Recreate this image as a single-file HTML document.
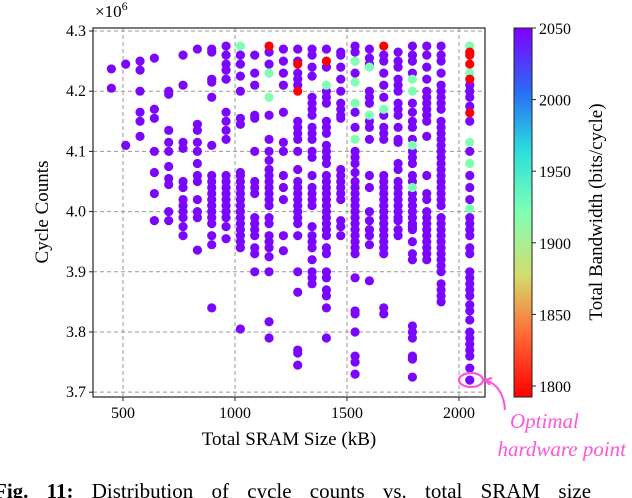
<!DOCTYPE html>
<html><head><meta charset="utf-8"><style>
body{margin:0;background:#fff;width:632px;height:498px;overflow:hidden}
svg{display:block;font-family:"Liberation Serif",serif}
</style></head><body>
<svg id="chart" width="632" height="498" viewBox="0 0 632 498">
<g id="grid"></g>
<g id="points"></g>
<rect x="93" y="28" width="392" height="369" fill="none" stroke="#222" stroke-width="1.2"/>
<g id="xticks"></g>
<g id="yticks"></g>
<text x="95" y="17" font-size="17">×10<tspan dy="-7" font-size="12">6</tspan></text>
<text transform="translate(48,212) rotate(-90)" text-anchor="middle" font-size="19">Cycle Counts</text>
<text x="289" y="445" text-anchor="middle" font-size="19">Total SRAM Size (kB)</text>
<defs><linearGradient id="cb" x1="0" y1="1" x2="0" y2="0">
<stop offset="0" stop-color="#ff0000"/><stop offset="0.17" stop-color="#ff6a36"/><stop offset="0.33" stop-color="#d4dd6e"/><stop offset="0.5" stop-color="#80ffb4"/><stop offset="0.67" stop-color="#2adddd"/><stop offset="0.83" stop-color="#2a6af5"/><stop offset="1" stop-color="#8000ff"/></linearGradient></defs>
<rect x="514" y="28" width="18" height="369" fill="url(#cb)" stroke="#222" stroke-width="1"/>
<g id="cbticks"></g>
<text transform="translate(602,212) rotate(-90)" text-anchor="middle" font-size="19">Total Bandwidth (bits/cycle)</text>
<ellipse cx="471" cy="380" rx="12" ry="7" fill="none" stroke="#ff55dd" stroke-width="2.2"/>
<path d="M505 410 C504 395 498 384 485 380 M485 380 l7 -2 M485 380 l5 5" fill="none" stroke="#ff55dd" stroke-width="2"/>
<text x="510" y="428" font-size="21" font-style="italic" fill="#ff55dd">Optimal</text>
<text x="626" y="456" text-anchor="end" font-size="21" font-style="italic" fill="#ff55dd">hardware point</text>
<text x="-6" y="498" font-size="21" word-spacing="13"><tspan font-weight="bold">Fig. 11:</tspan> Distribution of cycle counts vs. total SRAM size</text>
</svg>
<script>
const sramColumns=[448,512,576,640,704,768,832,896,960,1024,1088,1152,1216,1280,1344,1408,1472,1536,1600,1664,1728,1792,1856,1920,2048];
const cyclesByColumn=[
[4.237,4.205],
[4.245,4.11],
[4.25,4.235,4.2,4.165,4.15,4.125],
[4.255,4.17,4.155,4.1,4.065,4.03,3.985],
[4.2,4.195,4.135,4.115,4.1,4.075,4.055,4.045,4.0,3.985],
[4.26,4.21,4.115,4.105,4.05,4.04,4.02,4.01,4.0,3.99,3.975,3.96],
[4.27,4.145,4.135,4.115,4.1,4.08,4.06,4.05,4.02,4.0,3.99,3.936],
[4.265,4.27,4.22,4.215,4.19,4.11,4.06,4.05,4.04,4.03,4.02,4.01,4.0,3.99,3.98,3.96,3.945,3.84],
[4.275,4.26,4.245,4.235,4.22,4.165,4.15,4.135,4.12,4.06,4.05,4.04,4.03,4.02,4.01,4.0,3.99,3.975,3.955],
[4.26,4.245,4.225,4.2,4.155,4.145,4.065,4.06,4.05,4.04,4.03,4.02,4.01,4.0,3.99,3.98,3.97,3.96,3.95,3.94,3.805],
[4.26,4.23,4.21,4.16,4.155,4.1,4.05,4.04,4.03,3.99,3.98,3.97,3.96,3.94,3.93,3.9],
[4.265,4.245,4.16,4.12,4.1,4.085,4.07,4.06,4.05,4.04,4.03,4.02,4.01,3.99,3.98,3.96,3.95,3.94,3.925,3.9,3.817,3.79],
[4.27,4.25,4.23,4.21,4.165,4.115,4.1,4.06,4.04,4.02,3.96,3.935],
[4.27,4.25,4.23,4.22,4.21,4.15,4.14,4.13,4.12,4.1,4.07,4.05,4.04,4.03,4.02,4.01,4.0,3.99,3.98,3.96,3.9,3.866,3.77,3.765,3.745],
[4.27,4.26,4.24,4.225,4.19,4.18,4.17,4.16,4.14,4.13,4.12,4.1,4.09,4.06,4.04,4.03,4.02,4.01,3.975,3.96,3.95,3.94,3.92,3.9,3.89,3.88],
[4.27,4.24,4.2,4.19,4.18,4.15,4.14,4.13,4.11,4.1,4.09,4.08,4.06,4.05,4.04,4.03,4.02,4.01,4.0,3.99,3.98,3.97,3.96,3.94,3.93,3.9,3.89,3.87,3.86,3.84,3.79],
[4.265,4.26,4.24,4.22,4.2,4.18,4.17,4.16,4.155,4.07,4.06,4.05,4.04,4.03,4.02,3.985,3.975,3.96],
[4.275,4.265,4.23,4.165,4.14,4.1,4.09,4.08,4.065,4.05,4.04,4.03,4.02,4.01,4.0,3.99,3.98,3.97,3.96,3.95,3.94,3.93,3.89,3.835,3.83,3.8,3.76,3.75,3.73],
[4.27,4.255,4.245,4.2,4.19,4.18,4.15,4.14,4.12,4.06,4.04,4.0,3.985,3.97,3.96,3.945,3.885],
[4.26,4.25,4.23,4.21,4.19,4.16,4.14,4.13,4.12,4.06,4.05,4.04,4.03,4.02,4.01,4.0,3.99,3.98,3.97,3.96,3.95,3.94,3.93,3.84,3.83],
[4.265,4.25,4.24,4.22,4.21,4.2,4.18,4.17,4.16,4.14,4.12,4.115,4.08,4.07,4.05,4.04,4.03,4.02,4.01,4.0,3.99,3.985,3.97,3.96],
[4.275,4.26,4.25,4.23,4.18,4.165,4.15,4.14,4.12,4.1,4.09,4.08,4.06,4.05,4.03,4.02,4.01,4.0,3.99,3.98,3.975,3.97,3.95,3.93,3.92,3.81,3.8,3.79,3.76,3.755,3.725],
[4.275,4.26,4.24,4.22,4.2,4.19,4.18,4.17,4.16,4.15,4.125,4.06,4.03,4.02,4.0,3.99,3.98,3.97,3.96,3.95,3.94,3.93,3.92],
[4.275,4.26,4.25,4.23,4.21,4.2,4.19,4.18,4.17,4.15,4.14,4.13,4.12,4.11,4.1,4.09,4.08,4.07,4.06,4.05,4.04,4.03,4.02,4.01,3.99,3.98,3.97,3.96,3.95,3.94,3.93,3.92,3.91,3.9,3.88,3.87,3.86,3.85],
[4.21,4.2,4.19,4.175,4.15,4.1,4.06,4.04,4.02,3.99,3.98,3.97,3.96,3.94,3.93,3.9,3.89,3.88,3.87,3.86,3.845,3.835,3.82,3.8,3.79,3.78,3.77,3.76,3.74,3.72]
];
const defaultBandwidth=2048;
const specialSram=[1024,1152,1152,1152,1280,1280,1408,1408,1536,1536,1536,1536,1600,1600,1664,1664,1792,1792,1792,1792,2048,2048,2048,2048,2048,2048,2048,2048,2048,2048];
const specialCycles=[4.275,4.275,4.23,4.19,4.245,4.2,4.25,4.21,4.25,4.215,4.18,4.12,4.24,4.16,4.275,4.17,4.22,4.2,4.11,4.04,4.275,4.265,4.26,4.245,4.23,4.22,4.164,4.115,4.08,4.005];
const specialBandwidth=[1925,1800,1925,1925,1800,1800,1800,1925,1925,1925,1925,1925,1925,1925,1800,1925,1925,1925,1925,1925,1925,1800,1800,1800,1925,1800,1800,1925,1925,1925];
const xTicks=[500,1000,1500,2000];
const yTicks=[3.7,3.8,3.9,4.0,4.1,4.2,4.3];
const cbTicks=[1800,1850,1900,1950,2000,2050];

const NS="http://www.w3.org/2000/svg";
const xMin=366,xMax=2116,yMin=3.692,yMax=4.305,L=93,R=485,T=28,B=397;
const xs=v=>L+(v-xMin)/(xMax-xMin)*(R-L);
const ys=v=>B-(v-yMin)/(yMax-yMin)*(B-T);
const cbs=v=>386-(v-1800)/250*(386-28);
function color(bw){const t=Math.max(0,Math.min(1,(2050-bw)/250));
 const r=Math.min(1,Math.abs(2*t-0.5)),g=Math.sin(Math.PI*t),b=Math.cos(Math.PI*t/2);
 return `rgb(${Math.round(r*255)},${Math.round(g*255)},${Math.round(b*255)})`;}
function mk(tag,attrs,parent){const e=document.createElementNS(NS,tag);for(const k in attrs)e.setAttribute(k,attrs[k]);parent.appendChild(e);return e;}
const grid=document.getElementById('grid'),pts=document.getElementById('points'),xt=document.getElementById('xticks'),yt=document.getElementById('yticks'),cbt=document.getElementById('cbticks');
xTicks.forEach(v=>{const x=xs(v);
 const g=mk('line',{x1:x,x2:x,y1:T,y2:B,stroke:'#999','stroke-dasharray':'4,3','stroke-width':1},grid);
 
 const tk=mk('line',{x1:x,x2:x,y1:B,y2:B+4,stroke:'#222'},xt);
 
 const t=mk('text',{x:x,y:B+21,'text-anchor':'middle','font-size':16},xt);t.textContent=v;
 });
yTicks.forEach(v=>{const y=ys(v);
 const g=mk('line',{x1:L,x2:R,y1:y,y2:y,stroke:'#999','stroke-dasharray':'4,3','stroke-width':1},grid);
 
 const tk=mk('line',{x1:L-4,x2:L,y1:y,y2:y,stroke:'#222'},yt);
 
 const t=mk('text',{x:L-7,y:y+5,'text-anchor':'end','font-size':16},yt);t.textContent=v.toFixed(1);
 });
cbTicks.forEach(v=>{const y=cbs(v);
 const tk=mk('line',{x1:532,x2:536,y1:y,y2:y,stroke:'#222'},cbt);
 
 const t=mk('text',{x:539,y:y+6,'font-size':16},cbt);t.textContent=v;
 });
sramColumns.forEach((s,i)=>{cyclesByColumn[i].forEach(c=>{
 const p=mk('circle',{cx:xs(s),cy:ys(c),r:4.6,fill:color(defaultBandwidth)},pts);
 });});
specialSram.forEach((s,i)=>{
 const p=mk('circle',{cx:xs(s),cy:ys(specialCycles[i]),r:4.6,fill:color(specialBandwidth[i])},pts);
 });
</script>
</body></html>
